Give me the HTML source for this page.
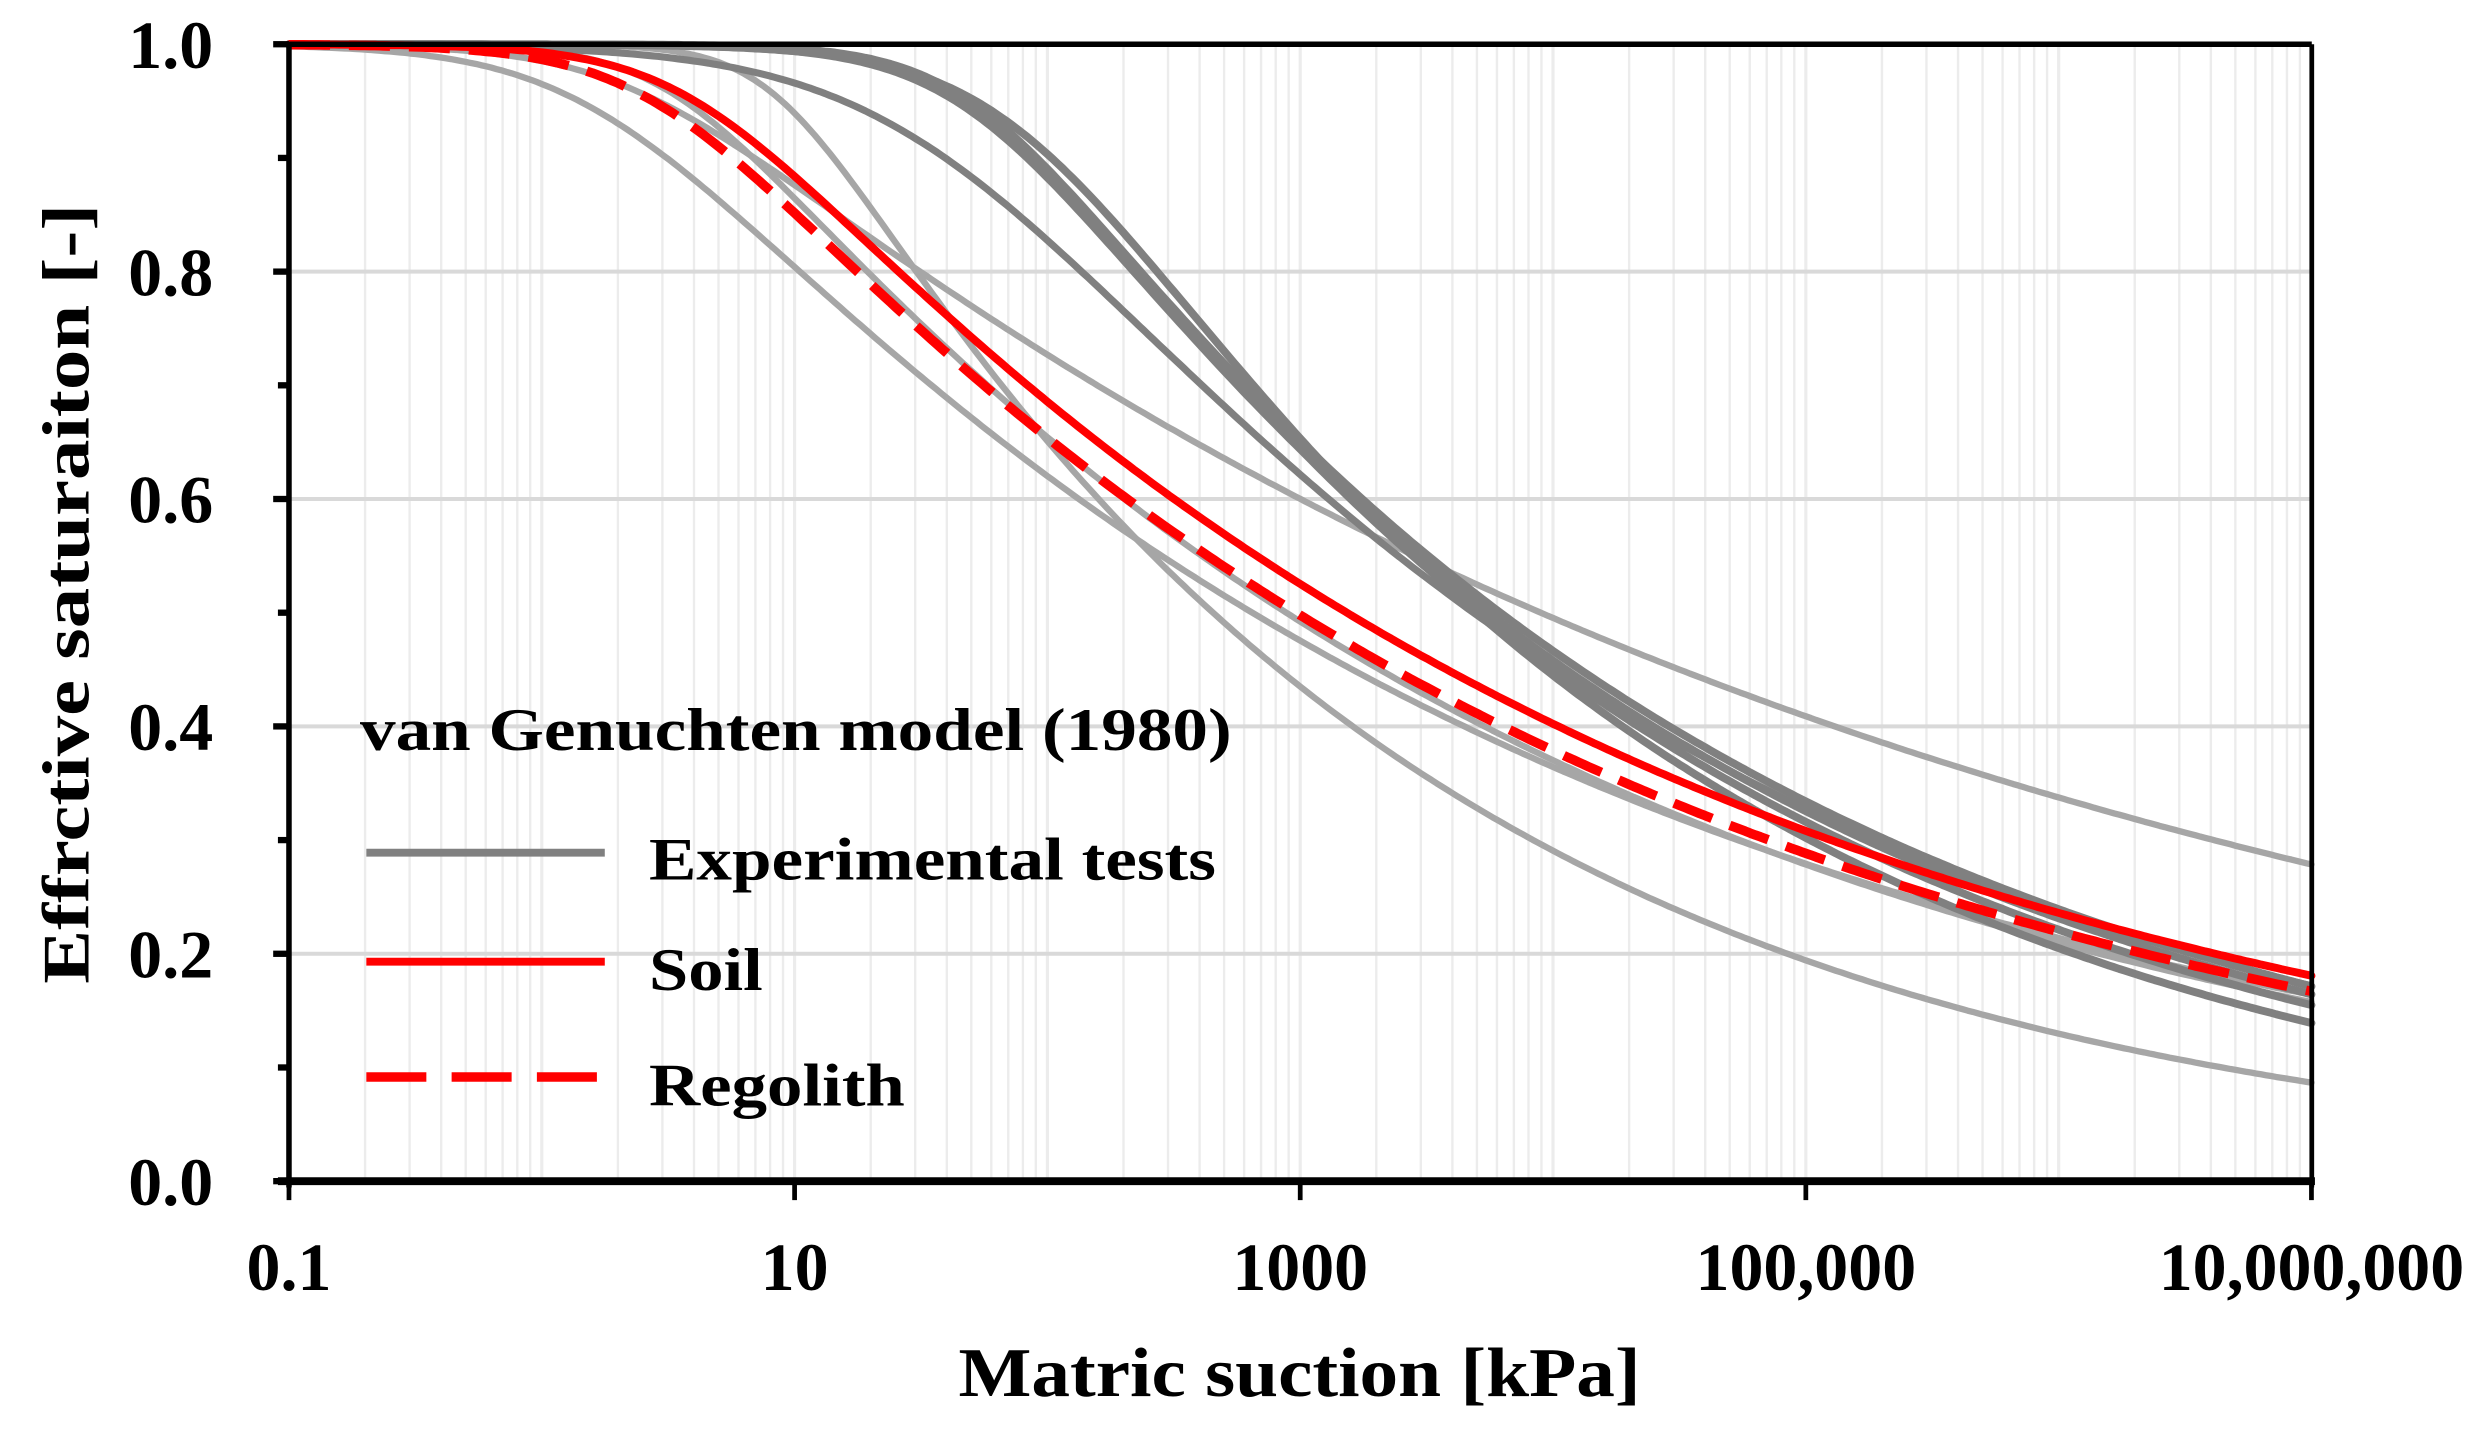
<!DOCTYPE html>
<html><head><meta charset="utf-8"><style>
html,body{margin:0;padding:0;background:#fff;}
svg{display:block;}
text{font-family:"Liberation Serif",serif;font-weight:bold;fill:#000;}
</style></head><body>
<svg id="s" width="2476" height="1443" viewBox="0 0 1568 913.8" xmlns="http://www.w3.org/2000/svg">
<g id="grid"></g>
<g id="curves" fill="none" stroke-linejoin="round" stroke-linecap="round"></g>
<g id="axes"></g>
<text x="228" y="475" font-size="38" textLength="552" lengthAdjust="spacingAndGlyphs">van Genuchten model (1980)</text>
<line x1="232" y1="540" x2="383" y2="540" stroke="#808080" stroke-width="5"/>
<line x1="232" y1="609" x2="383" y2="609" stroke="#ff0000" stroke-width="5"/>
<line x1="232" y1="682" x2="383" y2="682" stroke="#ff0000" stroke-width="6" stroke-dasharray="38,16"/>
<text x="411" y="557" font-size="38" textLength="359" lengthAdjust="spacingAndGlyphs">Experimental tests</text>
<text x="411" y="627" font-size="38" textLength="72" lengthAdjust="spacingAndGlyphs">Soil</text>
<text x="411" y="700" font-size="38" textLength="162" lengthAdjust="spacingAndGlyphs">Regolith</text>
<text x="823" y="884" font-size="44" text-anchor="middle" textLength="432" lengthAdjust="spacingAndGlyphs">Matric suction [kPa]</text>
<text transform="translate(56,376) rotate(-90)" font-size="42" text-anchor="middle" textLength="494" lengthAdjust="spacingAndGlyphs">Effrctive saturaiton [-]</text>
</svg>
<script>
var X0=183,DX=160.1,Y0=748,SY=720;
function px(h){return X0+(Math.log10(h)+1)*DX;}
function py(s){return Y0-s*SY;}
var ns="http://www.w3.org/2000/svg";
function el(p,t,a){var e=document.createElementNS(ns,t);for(var k in a)e.setAttribute(k,a[k]);p.appendChild(e);return e;}
var g=document.getElementById('grid');
for(var d=-1;d<7;d++)for(var m=1;m<10;m++){var h=m*Math.pow(10,d);if(d==-1&&m==1)continue;var x=px(h);el(g,'line',{x1:x,y1:28,x2:x,y2:748,stroke:'#ececec','stroke-width':m==1?2:1.5});}
for(var i=1;i<5;i++){var y=py(i*0.2);el(g,'line',{x1:183,y1:y,x2:1464,y2:y,stroke:'#d9d9d9','stroke-width':2.5});}
var a=document.getElementById('axes');
el(a,'line',{x1:183,y1:28,x2:1464,y2:28,stroke:'#000','stroke-width':3.5});
el(a,'line',{x1:1464,y1:28,x2:1464,y2:752,stroke:'#000','stroke-width':3});
el(a,'line',{x1:183,y1:27,x2:183,y2:752,stroke:'#000','stroke-width':3.5});
el(a,'line',{x1:176,y1:748,x2:1466,y2:748,stroke:'#000','stroke-width':5});
for(var i=0;i<=10;i++){var y=py(i*0.1);el(a,'line',{x1:i%2==0?173:176,y1:y,x2:183,y2:y,stroke:'#000','stroke-width':4});}
for(var i=0;i<=5;i++){var y=py(i*0.2);var t=el(a,'text',{x:135,y:y+15,'font-size':43,'text-anchor':'end'});t.textContent=(i*0.2).toFixed(1);}
var labs=['0.1','10','1000','100,000','10,000,000'];
for(var i=0;i<5;i++){var x=X0+i*2*DX;el(a,'line',{x1:x,y1:748,x2:x,y2:760,stroke:'#000','stroke-width':3});var t=el(a,'text',{x:x,y:817,'font-size':43,'text-anchor':'middle'});t.textContent=labs[i];}
function vg(p,lg){return Math.pow(1+Math.pow(10,(p[0]+lg)*p[1]),-p[2]);}
function fit(pts){
 var p=[-1,2,0.2],st=[0.5,0.5,0.1];
 function err(q){if(q[1]<1.01||q[2]<0.005)return 1e9;var e=0;for(var i=0;i<pts.length;i++){var r=vg(q,pts[i][0])-pts[i][1];e+=r*r;}return e;}
 var best=err(p);
 for(var it=0;it<4000;it++){
  var imp=false;
  for(var k=0;k<3;k++)for(var s=-1;s<=1;s+=2){var q=p.slice();q[k]+=s*st[k];var e=err(q);if(e<best){best=e;p=q;imp=true;}}
  if(!imp){st=st.map(function(v){return v*0.6;});if(st[0]<1e-6)break;}
 }
 return p;
}
function curve(pts,col,w,dash){
 var p=fit(pts);var d='';
 for(var lg=-1;lg<=7.0001;lg+=0.02){var x=X0+(lg+1)*DX,y=Y0-vg(p,lg)*SY;d+=(d?'L':'M')+x.toFixed(1)+','+y.toFixed(1);}
 var o={d:d,stroke:col,'stroke-width':w};if(dash){o['stroke-dasharray']=dash;o['stroke-linecap']='butt';}
 el(document.getElementById('curves'),'path',o);
}
var LG='#a6a6a6',DG='#808080';
curve([[0,0.96],[1,0.82],[2,0.6],[3,0.47],[4,0.37],[5,0.29],[6,0.22],[7,0.155]],LG,4);
curve([[0,0.995],[1,0.94],[1.5,0.8],[2,0.64],[3,0.44],[4,0.29],[5,0.2],[6,0.13],[7,0.08]],LG,4);
curve([[0,0.99],[1,0.87],[1.5,0.8],[2,0.73],[3,0.6],[4,0.5],[5,0.41],[6,0.34],[7,0.27]],LG,4);
curve([[0,0.985],[1,0.88],[2,0.63],[3,0.49],[4,0.38],[5,0.29],[6,0.21],[7,0.15]],LG,4);
curve([[1,0.96],[2,0.83],[2.5,0.72],[3,0.62],[3.5,0.53],[4,0.46],[5,0.33],[6,0.24],[7,0.16]],DG,4.5);
curve([[1,0.99],[1.5,0.965],[2,0.9],[2.5,0.78],[3,0.645],[3.5,0.54],[4,0.45],[5,0.33],[6,0.25],[7,0.19]],DG,5);
curve([[1,0.99],[1.5,0.96],[2,0.89],[2.5,0.77],[3,0.64],[3.5,0.535],[4,0.445],[5,0.325],[6,0.24],[7,0.175]],DG,5);
curve([[1,0.992],[1.5,0.97],[2,0.905],[2.5,0.785],[3,0.65],[3.5,0.54],[4,0.44],[5,0.31],[6,0.21],[7,0.13]],DG,5);
curve([[1,0.99],[1.5,0.962],[2,0.895],[2.5,0.775],[3,0.64],[3.5,0.53],[4,0.44],[5,0.32],[6,0.23],[7,0.16]],DG,5);
curve([[0,0.985],[1,0.89],[1.5,0.79],[2,0.664],[3,0.525],[4,0.414],[5,0.317],[6,0.233],[7,0.171]],'#ff0000',5);
curve([[0,0.975],[1,0.87],[2,0.625],[3,0.5],[4,0.39],[5,0.30],[6,0.22],[7,0.155]],'#ff0000',6,'26,12');
</script>
</body></html>
